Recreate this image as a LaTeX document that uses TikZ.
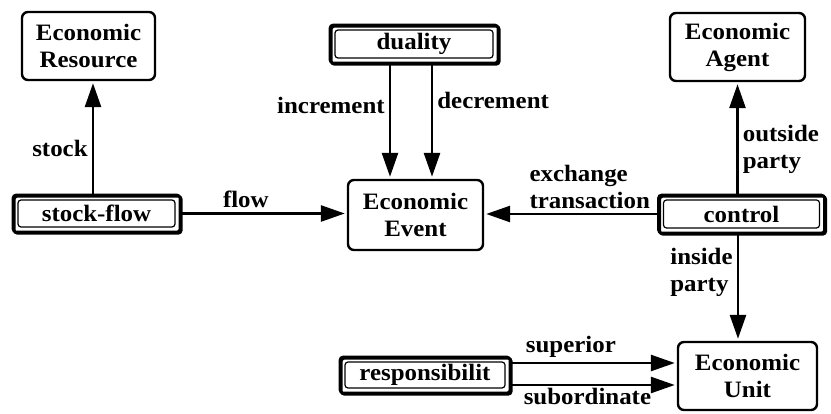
\documentclass[tikz,border=0pt]{standalone}
\usepackage{fontspec}
\setmainfont{Liberation Serif}[FakeStretch=1.06]
\usetikzlibrary{arrows.meta}
\begin{document}
\begin{tikzpicture}[x=1pt,y=-1pt,
  font=\fontsize{23.5}{27}\selectfont\bfseries,
  entity/.style={draw, line width=2.4pt, rounded corners=6pt, align=center,
    inner sep=0pt},
  rel/.style={draw, line width=2.6pt, rounded corners=3pt, inner sep=0pt,
    preaction={draw, line width=2.6pt, transform canvas={shift={(1.3pt,-1.3pt)}}},
    path picture={\draw[line width=1.2pt]
      ([shift={(5pt,-5pt)}]path picture bounding box.north west) rectangle
      ([shift={(-5pt,5pt)}]path picture bounding box.south east);}},
  arr/.style={line width=2.7pt, shorten >=2pt, -{Triangle[length=24pt,width=16pt]}},
  lbl/.style={inner sep=4pt, align=left}]
\useasboundingbox (0,0) rectangle (831,414);

% entities
\node[entity, minimum width=133pt, minimum height=68pt] (res)   at (88.5,46)  {Economic\\Resource};
\node[entity, minimum width=135pt, minimum height=68pt] (agent) at (737.5,47) {Economic\\Agent};
\node[entity, minimum width=135pt, minimum height=70pt] (event) at (415.5,215) {Economic\\Event};
\node[entity, minimum width=139pt, minimum height=68pt] (unit)  at (747.5,376) {Economic\\Unit};

% relationships
\node[rel, minimum width=168pt, minimum height=38pt] (dual) at (414,44)    {duality};
\node[rel, minimum width=167pt, minimum height=37pt] (sf)   at (96.5,213.5) {stock-flow};
\node[rel, minimum width=166pt, minimum height=38pt] (ctrl) at (741.5,214) {control};
\node[rel, minimum width=170pt, minimum height=36pt] (resp) at (425,375)   {responsibilit};

% connectors
\draw[arr] ([xshift=-3.5pt]sf.north) -- node[lbl, left, pos=0.4] {stock} ([xshift=4.5pt]res.south);
\draw[arr] (sf.east) -- node[lbl, above, pos=0.39] {flow} (sf.east -| event.west);
\draw[arr] ([xshift=-24pt]dual.south) -- node[lbl, left, pos=0.36] {increment} ([xshift=-25.5pt]event.north);
\draw[arr] ([xshift=18pt]dual.south) -- node[lbl, right, pos=0.32] {decrement} ([xshift=16.5pt]event.north);
\draw[arr] (ctrl.west) -- node[lbl, above, pos=0.39] {exchange\\transaction} (ctrl.west -| event.east);
\draw[arr] (ctrl.north -| agent.south) -- node[lbl, right, pos=0.4] {outside\\party} (agent.south);
\draw[arr] ([xshift=-3.5pt]ctrl.south) -- node[lbl, left, pos=0.36] {inside\\party} ([xshift=-3.5pt]ctrl.south |- unit.north);
\draw[arr] ([yshift=12pt]resp.east) -- node[lbl, above, pos=0.36] {superior} ([yshift=12pt]resp.east -| unit.west);
\draw[arr] ([yshift=-10pt]resp.east) -- node[lbl, below, pos=0.46, inner sep=2pt] {subordinate} ([yshift=-10pt]resp.east -| unit.west);
\end{tikzpicture}
\end{document}
